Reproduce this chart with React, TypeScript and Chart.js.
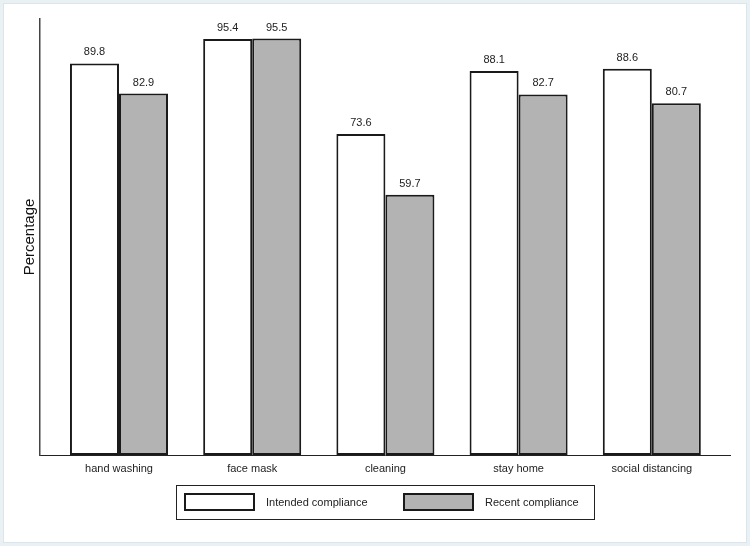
import React, { useEffect, useRef } from 'react';
import { Chart, registerables } from 'chart.js';

Chart.register(...registerables);

const categories = ['hand washing', 'face mask', 'cleaning', 'stay home', 'social distancing'];
const intended = [89.8, 95.4, 73.6, 88.1, 88.6];
const recent = [82.9, 95.5, 59.7, 82.7, 80.7];
const seriesNames = ['Intended compliance', 'Recent compliance'];
const yTitle = 'Percentage';

const FONT = "'Liberation Sans', Arial, Helvetica, sans-serif";
const INK = '#1a1a1a';

const framePlugin = {
  id: 'frame',
  beforeDraw(chart: any) {
    const { ctx, width, height } = chart;
    ctx.save();
    ctx.fillStyle = '#ffffff';
    ctx.fillRect(0, 0, width, height);
    ctx.strokeStyle = '#e9f1f5';
    ctx.lineWidth = 3;
    ctx.strokeRect(1.5, 1.5, width - 3, height - 3);
    ctx.strokeStyle = '#dbe5ea';
    ctx.lineWidth = 1;
    ctx.strokeRect(3.5, 3.5, width - 7, height - 7);
    ctx.restore();
  },
};

const valueLabelPlugin = {
  id: 'valueLabels',
  afterDatasetsDraw(chart: any) {
    const { ctx } = chart;
    ctx.save();
    ctx.font = `11px ${FONT}`;
    ctx.fillStyle = '#222';
    ctx.textAlign = 'center';
    ctx.textBaseline = 'alphabetic';
    chart.data.datasets.forEach((ds: any, i: number) => {
      const meta = chart.getDatasetMeta(i);
      meta.data.forEach((el: any, j: number) => {
        const v = ds.data[j].y;
        ctx.fillText(v.toFixed(1), el.x, el.y - 8);
      });
    });
    ctx.restore();
  },
};

const boxLegendPlugin = {
  id: 'boxLegend',
  afterDraw(chart: any) {
    const { ctx } = chart;
    const itemX = [184, 403];
    ctx.save();
    ctx.strokeStyle = '#222';
    ctx.lineWidth = 1;
    ctx.strokeRect(176.5, 485.5, 418, 34);
    ctx.font = `11px ${FONT}`;
    ctx.textBaseline = 'middle';
    ctx.textAlign = 'left';
    chart.data.datasets.forEach((ds: any, i: number) => {
      const x = itemX[i];
      ctx.fillStyle = ds.backgroundColor;
      ctx.fillRect(x, 493, 71, 18);
      ctx.strokeStyle = INK;
      ctx.lineWidth = 2;
      ctx.strokeRect(x + 1, 494, 69, 16);
      ctx.fillStyle = '#222';
      ctx.fillText(ds.label, x + 82, 502.5);
    });
    ctx.restore();
  },
};

export default function App() {
  const ref = useRef<HTMLCanvasElement | null>(null);

  useEffect(() => {
    document.body.style.margin = '0';
    const canvas = ref.current;
    if (!canvas) return;
    const chart = new Chart(canvas, {
      type: 'bar',
      data: {
        datasets: [
          {
            label: seriesNames[0],
            data: intended.map((v, i) => ({ x: i, y: v })),
            backgroundColor: '#ffffff',
            borderColor: INK,
            borderWidth: 2,
            borderSkipped: false,
            categoryPercentage: 0.736,
            barPercentage: 1,
          },
          {
            label: seriesNames[1],
            data: recent.map((v, i) => ({ x: i, y: v })),
            backgroundColor: '#b3b3b3',
            borderColor: INK,
            borderWidth: 2,
            borderSkipped: false,
            categoryPercentage: 0.736,
            barPercentage: 1,
          },
        ] as any,
      },
      options: {
        animation: false,
        responsive: false,
        maintainAspectRatio: false,
        layout: { padding: { top: 19, right: 20, left: 0, bottom: 0 } },
        plugins: {
          legend: { display: false },
          tooltip: { enabled: false },
        },
        scales: {
          x: {
            type: 'linear',
            min: -0.593,
            max: 4.587,
            offset: false,
            grid: { display: false, drawTicks: false },
            border: { display: true, color: '#222', width: 1 },
            ticks: {
              stepSize: 1,
              includeBounds: false,
              autoSkip: false,
              maxRotation: 0,
              padding: 7,
              color: '#222',
              font: { size: 11, family: FONT },
              callback: (v: any) => (Number.isInteger(v) && categories[v] !== undefined ? categories[v] : ''),
            },
            afterFit: (scale: any) => {
              scale.height = 91;
            },
          },
          y: {
            min: 0,
            max: 100,
            grid: { display: false },
            border: { display: true, color: '#444', width: 1.5 },
            ticks: { display: false },
            title: {
              display: true,
              text: yTitle,
              color: '#111',
              font: { size: 15, family: FONT },
              padding: { top: 21, bottom: 0 },
            },
            afterFit: (scale: any) => {
              scale.width = 40;
            },
          },
        } as any,
      },
      plugins: [framePlugin, valueLabelPlugin, boxLegendPlugin],
    });
    return () => chart.destroy();
  }, []);

  return (
    <div style={{ width: 750, height: 546 }}>
      <canvas ref={ref} width={750} height={546} style={{ display: 'block', width: 750, height: 546 }} />
    </div>
  );
}
